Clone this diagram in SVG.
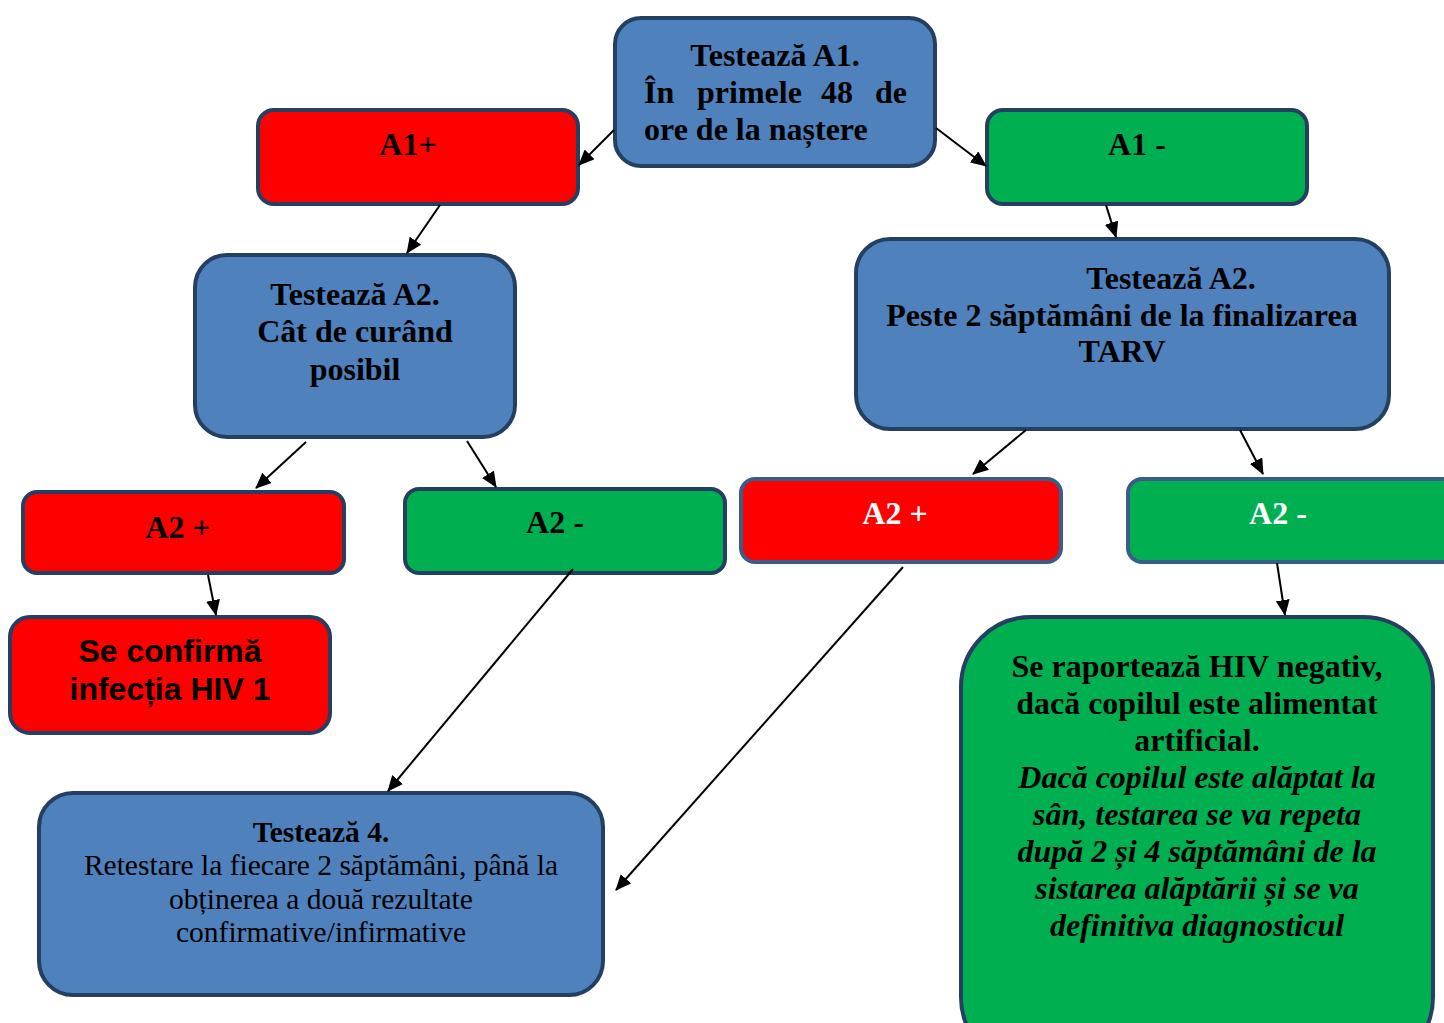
<svg xmlns="http://www.w3.org/2000/svg" width="1444" height="1023" viewBox="0 0 1444 1023">
<defs>
<marker id="ah" markerUnits="userSpaceOnUse" markerWidth="16" markerHeight="14" refX="15" refY="7" orient="auto">
<path d="M0,0 L16,7 L0,14 Z" fill="#000"/>
</marker>
<style>
.b{fill:#4F81BD;stroke:#243F60;stroke-width:4}
.r{fill:#FF0000;stroke:#243F60;stroke-width:4}
.g{fill:#00B050;stroke:#243F60;stroke-width:4}
.r2{fill:#FF0000;stroke:#385D8A;stroke-width:4}
.g2{fill:#00B050;stroke:#385D8A;stroke-width:4}
.t{font-family:"Liberation Serif","Times New Roman",serif;font-weight:bold;font-size:32px;fill:#000}
.tw{font-family:"Liberation Serif","Times New Roman",serif;font-weight:bold;font-size:32px;fill:#fff}
.c{text-anchor:middle}
.i{font-style:italic}
.a{font-family:"Liberation Sans",Arial,sans-serif;font-weight:bold;font-size:32px;fill:#000;text-anchor:middle}
.n{font-family:"Liberation Serif","Times New Roman",serif;font-size:29.5px;fill:#000;text-anchor:middle}
.nb{font-weight:bold}
.conn line{stroke:#000;stroke-width:2;marker-end:url(#ah)}
</style>
</defs>
<rect width="1444" height="1023" fill="#fff"/>

<g id="top">
<rect class="b" x="615" y="18" width="320" height="148" rx="26"/>
<text class="t c" x="775" y="66">Testează A1.</text>
<text class="t" y="103"><tspan x="644">În</tspan><tspan x="697">primele</tspan><tspan x="821">48</tspan><tspan x="875">de</tspan></text>
<text class="t" x="644" y="140">ore de la naștere</text>
</g>

<g id="a1plus">
<rect class="r" x="258" y="110" width="320" height="94" rx="16"/>
<text class="t c" x="408" y="155">A1+</text>
</g>

<g id="a1minus">
<rect class="g" x="987" y="110" width="320" height="94" rx="16"/>
<text class="t c" x="1137" y="155">A1 -</text>
</g>

<g id="testA2left">
<rect class="b" x="195" y="255" width="320" height="182" rx="32"/>
<text class="t c" x="355" y="305">Testează A2.</text>
<text class="t c" x="355" y="342">Cât de curând</text>
<text class="t c" x="355" y="380">posibil</text>
</g>

<g id="testA2right">
<rect class="b" x="856" y="239" width="533" height="190" rx="34"/>
<text class="t c" x="1171" y="289">Testează A2.</text>
<text class="t c" x="1122" y="326">Peste 2 săptămâni de la finalizarea</text>
<text class="t c" x="1122" y="362">TARV</text>
</g>

<g id="a2plusLeft">
<rect class="r" x="23" y="492" width="321" height="81" rx="14"/>
<text class="t c" x="178" y="538">A2 +</text>
</g>

<g id="a2minusLeft">
<rect class="g" x="405" y="489" width="320" height="84" rx="14"/>
<text class="t c" x="555" y="533">A2 -</text>
</g>

<g id="a2plusRight">
<rect class="r2" x="741" y="479" width="320" height="83" rx="14"/>
<text class="tw c" x="895" y="524">A2 +</text>
</g>

<g id="a2minusRight">
<rect class="g2" x="1128" y="479" width="330" height="83" rx="14"/>
<text class="tw c" x="1278" y="524">A2 -</text>
</g>

<g id="confirm">
<rect class="r" x="10" y="617" width="320" height="116" rx="20"/>
<text class="a" x="170" y="662">Se confirmă</text>
<text class="a" x="170" y="700">infecția HIV 1</text>
</g>

<g id="test4">
<rect class="b" x="39" y="793" width="564" height="202" rx="34"/>
<text class="n nb" x="321" y="842">Testează 4.</text>
<text class="n" x="321" y="875">Retestare la fiecare 2 săptămâni, până la</text>
<text class="n" x="321" y="909">obținerea a două rezultate</text>
<text class="n" x="321" y="942">confirmative/infirmative</text>
</g>

<g id="negativ">
<rect class="g" x="961" y="617" width="472" height="450" rx="70"/>
<text class="t c" x="1197" y="677">Se raportează HIV negativ,</text>
<text class="t c" x="1197" y="714">dacă copilul este alimentat</text>
<text class="t c" x="1197" y="751">artificial.</text>
<text class="t c i" x="1197" y="788">Dacă copilul este alăptat la</text>
<text class="t c i" x="1197" y="825">sân, testarea se va repeta</text>
<text class="t c i" x="1197" y="862">după 2 și 4 săptămâni de la</text>
<text class="t c i" x="1197" y="899">sistarea alăptării și se va</text>
<text class="t c i" x="1197" y="936">definitiva diagnosticul</text>
</g>

<g id="connectors" class="conn">
<line x1="614" y1="130" x2="579" y2="165"/>
<line x1="936" y1="128" x2="986" y2="166"/>
<line x1="440" y1="205" x2="407" y2="253"/>
<line x1="1106" y1="205" x2="1116" y2="237"/>
<line x1="306" y1="442" x2="256" y2="488"/>
<line x1="467" y1="441" x2="496" y2="487"/>
<line x1="1026" y1="430" x2="973" y2="474"/>
<line x1="1240" y1="430" x2="1263" y2="474"/>
<line x1="208" y1="575" x2="216" y2="615"/>
<line x1="573" y1="569" x2="388" y2="791"/>
<line x1="903" y1="567" x2="616" y2="890"/>
<line x1="1277" y1="563" x2="1285" y2="615"/>
</g>
</svg>
